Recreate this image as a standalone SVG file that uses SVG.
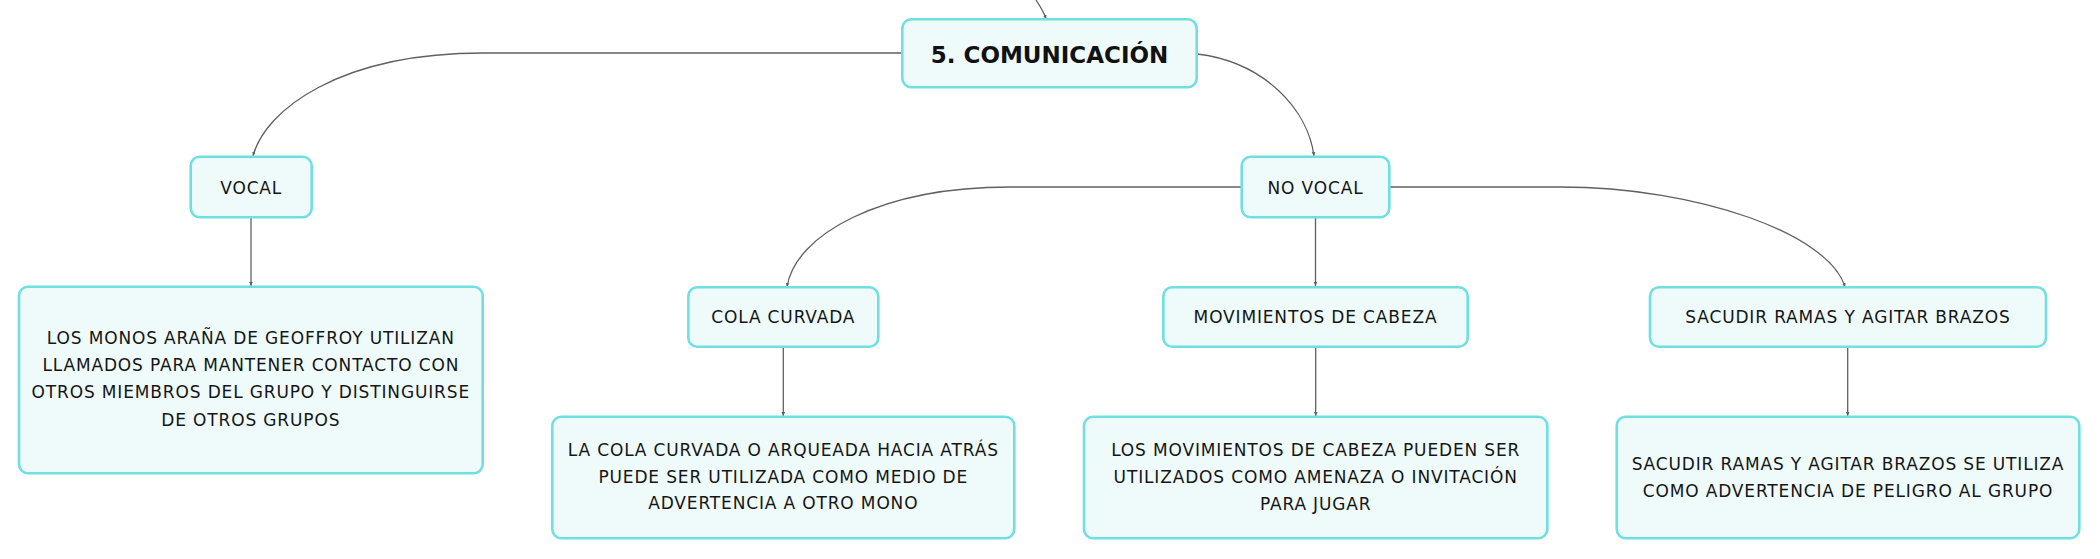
<svg xmlns="http://www.w3.org/2000/svg" width="2100" height="559" viewBox="0 0 2100 559">
<style>
.node{fill:#effbfb;stroke:#6fdfe2;stroke-width:2.6}
.t{font-family:"DejaVu Sans","Liberation Sans",sans-serif;font-size:17px;fill:#151515;text-anchor:middle;letter-spacing:0.85px}
.title{font-family:"DejaVu Sans","Liberation Sans",sans-serif;font-size:23px;font-weight:bold;fill:#111;text-anchor:middle}
.c{fill:none;stroke:#606060;stroke-width:1.3;marker-end:url(#ah)}
</style>
<defs>
<marker id="ah" markerUnits="userSpaceOnUse" markerWidth="5" markerHeight="5" refX="4" refY="2.5" orient="auto">
<path d="M0,0.7 L4,2.5 L0,4.3 z" fill="#606060"/>
</marker>
</defs>
<rect width="2100" height="559" fill="#ffffff"/>
<g id="connectors">
<path class="c" d="M1036,0 C1040,6 1044,12 1046,19"/>
<path class="c" d="M902,53 L483,53 C340,53 265,110 253,156"/>
<path class="c" d="M1197,54 C1265,62 1308,110 1314,156"/>
<path class="c" d="M251,218 L251,286"/>
<path class="c" d="M1241,187 L1010,187 C880,187 795,235 787,287"/>
<path class="c" d="M1315.5,218 L1315.5,286"/>
<path class="c" d="M1389,187 L1560,187 C1700,187 1830,235 1845,287"/>
<path class="c" d="M783.3,347 L783.3,416"/>
<path class="c" d="M1315.7,347 L1315.7,416"/>
<path class="c" d="M1847.7,347 L1847.7,416"/>
</g>
<g id="n-comunicacion">
<rect class="node" x="902.3" y="19.3" width="294.4" height="68" rx="9"/>
<text class="title" x="1049.5" y="62.5">5. COMUNICACIÓN</text>
</g>
<g id="n-vocal">
<rect class="node" x="190.7" y="156.7" width="121" height="60.6" rx="9"/>
<text class="t" x="251.2" y="193.8">VOCAL</text>
</g>
<g id="n-vocal-desc">
<rect class="node" x="19" y="286.7" width="463.7" height="186.6" rx="9"/>
<text class="t" x="250.8" y="344">LOS MONOS ARAÑA DE GEOFFROY UTILIZAN</text>
<text class="t" x="250.8" y="371.2">LLAMADOS PARA MANTENER CONTACTO CON</text>
<text class="t" x="250.8" y="398.4">OTROS MIEMBROS DEL GRUPO Y DISTINGUIRSE</text>
<text class="t" x="250.8" y="425.6">DE OTROS GRUPOS</text>
</g>
<g id="n-novocal">
<rect class="node" x="1241.7" y="156.7" width="147.6" height="60.6" rx="9"/>
<text class="t" x="1315.5" y="193.5">NO VOCAL</text>
</g>
<g id="n-cola">
<rect class="node" x="688.3" y="287.3" width="190" height="59.4" rx="9"/>
<text class="t" x="783.3" y="323.3">COLA CURVADA</text>
</g>
<g id="n-cola-desc">
<rect class="node" x="552.3" y="416.7" width="462" height="121.6" rx="9"/>
<text class="t" x="783.3" y="456">LA COLA CURVADA O ARQUEADA HACIA ATRÁS</text>
<text class="t" x="783.3" y="482.7">PUEDE SER UTILIZADA COMO MEDIO DE</text>
<text class="t" x="783.3" y="509.3">ADVERTENCIA A OTRO MONO</text>
</g>
<g id="n-mov">
<rect class="node" x="1163.3" y="287.3" width="304.4" height="59.4" rx="9"/>
<text class="t" x="1315.5" y="323">MOVIMIENTOS DE CABEZA</text>
</g>
<g id="n-mov-desc">
<rect class="node" x="1084" y="416.7" width="463.3" height="121.6" rx="9"/>
<text class="t" x="1315.7" y="456">LOS MOVIMIENTOS DE CABEZA PUEDEN SER</text>
<text class="t" x="1315.7" y="483">UTILIZADOS COMO AMENAZA O INVITACIÓN</text>
<text class="t" x="1315.7" y="509.7">PARA JUGAR</text>
</g>
<g id="n-sacudir">
<rect class="node" x="1650" y="287.3" width="396" height="59.4" rx="9"/>
<text class="t" x="1848" y="323.3">SACUDIR RAMAS Y AGITAR BRAZOS</text>
</g>
<g id="n-sacudir-desc">
<rect class="node" x="1616.7" y="416.7" width="462.6" height="121.6" rx="9"/>
<text class="t" x="1848" y="470">SACUDIR RAMAS Y AGITAR BRAZOS SE UTILIZA</text>
<text class="t" x="1848" y="496.7">COMO ADVERTENCIA DE PELIGRO AL GRUPO</text>
</g>
</svg>
